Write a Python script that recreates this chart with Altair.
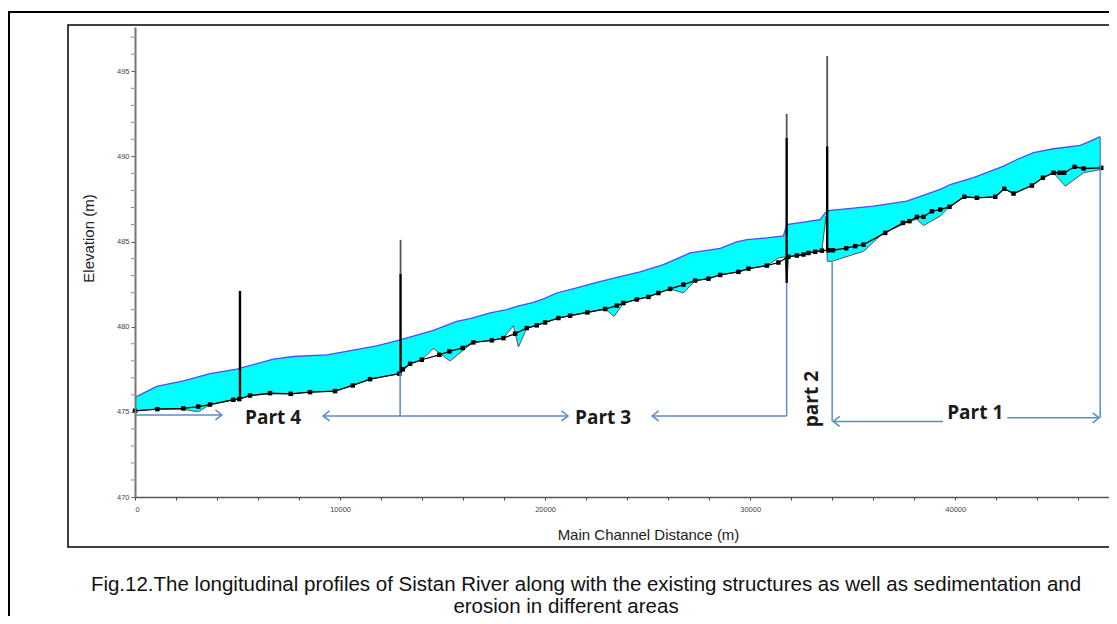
import altair as alt
import pandas as pd

# ---------------- data ----------------
# water surface profile (m, m)
ws_x = [0, 1060, 2360, 3660, 4960, 6750, 7720, 9350, 9840, 11790, 12930, 14550, 15690, 16340,
        17320, 18130, 18620, 19430, 19920, 20570, 21540, 22520, 23660, 24630, 25770, 27070,
        28540, 29350, 29840, 30810, 31620, 31790, 33410, 33660, 33820, 36010, 37640, 39270,
        39760, 40890, 42360, 43010, 43820, 44800, 46100, 46590, 47070]
ws_y = [475.85, 476.49, 476.82, 477.24, 477.51, 478.10, 478.25, 478.35, 478.45, 478.88, 479.22,
        479.78, 480.31, 480.47, 480.81, 481.00, 481.19, 481.43, 481.63, 481.98, 482.28, 482.61,
        482.94, 483.22, 483.65, 484.33, 484.60, 484.98, 485.12, 485.22, 485.33, 486.00, 486.29,
        486.68, 486.82, 487.08, 487.37, 488.06, 488.35, 488.75, 489.43, 489.82, 490.22, 490.45,
        490.65, 490.90, 491.16]

# channel bed with markers
bed_x = [0, 1088, 2356, 3088, 3659, 4795, 5088, 5610, 6585, 7595, 8537, 9756, 10620, 11463,
         12893, 13059, 13415, 13985, 14844, 15332, 15985, 16502, 17400, 17966, 18537, 19107,
         19595, 20000, 20649, 21220, 22063, 22927, 23498, 23820, 24473, 25039, 25527, 26098,
         26746, 27317, 27966, 28537, 29429, 29917, 30815, 31380, 31868, 32278, 32600, 32844,
         33171, 33498, 33820, 34034, 34683, 35122, 35527, 36585, 37449, 37771, 38132, 38454,
         38863, 39268, 39722, 40439, 41059, 41951, 42390, 42844, 43741, 44278, 44795, 45088,
         45317, 45820, 46259, 47122]
bed_y = [475.06, 475.16, 475.20, 475.31, 475.43, 475.71, 475.75, 475.96, 476.10, 476.06, 476.16,
         476.22, 476.55, 476.92, 477.24, 477.50, 477.82, 478.06, 478.35, 478.55, 478.75, 479.08,
         479.20, 479.33, 479.59, 479.92, 480.08, 480.25, 480.51, 480.65, 480.84, 481.04, 481.24,
         481.39, 481.60, 481.75, 481.98, 482.22, 482.47, 482.71, 482.82, 483.04, 483.22, 483.41,
         483.59, 483.77, 484.11, 484.18, 484.24, 484.33, 484.40, 484.47, 484.49, 484.49, 484.61,
         484.73, 484.82, 485.51, 486.10, 486.20, 486.45, 486.45, 486.78, 486.88, 487.04, 487.63,
         487.57, 487.63, 488.10, 487.82, 488.29, 488.75, 489.04, 489.04, 489.04, 489.39, 489.29,
         489.33]

# original ground line (lower limit of the cyan fill)
ini_x = [0, 1088, 2356, 3088, 3659, 4795, 5088, 5610, 6585, 7595, 8537, 9756, 10620, 11463,
         12893, 13059, 13415, 13985, 14551, 15366, 15985, 16502, 17400, 17966, 18454, 18698,
         19107, 19595, 20000, 20649, 21220, 22063, 22927, 23366, 23820, 24473, 25039, 25527,
         26098, 26746, 27317, 27966, 28537, 29429, 29917, 30815, 31380, 31700, 31790, 31870,
         32278, 32600, 32844, 33171, 33498, 33700, 33760, 33980, 35530, 36490, 37449, 37771,
         38132, 38454, 39268, 39722, 40439, 41059, 41951, 42390, 42844, 43741, 44278, 44795,
         45366, 46259, 47122]
ini_y = [475.06, 475.16, 475.15, 475.00, 475.43, 475.71, 475.75, 475.96, 476.05, 476.06, 476.16,
         476.22, 476.55, 476.92, 477.24, 477.40, 477.82, 478.06, 478.72, 477.98, 478.60, 479.08,
         479.20, 479.33, 480.06, 478.81, 479.92, 480.08, 480.25, 480.51, 480.65, 480.84, 481.04,
         480.60, 481.39, 481.60, 481.75, 481.98, 482.22, 481.98, 482.71, 482.82, 483.04, 483.22,
         483.41, 483.59, 484.04, 484.10, 482.57, 484.11, 484.18, 484.24, 484.33, 484.40, 484.47,
         486.50, 483.84, 483.84, 484.43, 485.50, 486.00, 486.20, 486.30, 485.94, 486.49, 487.04,
         487.63, 487.57, 487.63, 488.10, 487.82, 488.29, 488.75, 489.04, 488.25, 489.04, 489.24]

# structures: position, bottom, top of dark part, top of light part
st_x = [5120, 12950, 31780, 33756]
st_bottom = [475.75, 477.30, 482.57, 484.49]
st_mid = [482.10, 483.10, 491.10, 490.60]
st_top = [482.10, 485.10, 492.50, 495.90]

# annotation segments (part limits)
an_x1 = [0, 9170, 12930, 25220, 34050, 42540, 12930, 31780, 34000, 47070]
an_x2 = [4240, 12930, 21120, 31780, 39410, 47020, 12930, 31780, 34000, 47070]
an_y1 = [474.82, 474.76, 474.76, 474.76, 474.44, 474.65, 474.76, 474.76, 474.44, 474.65]
an_y2 = [474.82, 474.76, 474.76, 474.76, 474.44, 474.65, 477.30, 482.57, 483.84, 491.16]

# arrow heads
ah_x = [4240, 9170, 21120, 25220, 34050, 47020]
ah_y = [474.82, 474.76, 474.76, 474.76, 474.44, 474.65]
ah_dir = ["right", "left", "right", "left", "left", "right"]

# part labels
pl_text = ["Part 4", "Part 3", "Part 1"]
pl_x = [6732, 22830, 40976]
pl_y = [474.62, 474.62, 474.92]
p2_text = ["part 2"]
p2_x = [33000]
p2_y = [475.75]

caption1 = "Fig.12.The longitudinal profiles of Sistan River along with the existing structures as well as sedimentation and"
caption2 = "erosion in  different areas"

x_ticks = [0, 2000, 4000, 6000, 8000, 10000, 12000, 14000, 16000, 18000, 20000, 22000, 24000,
           26000, 28000, 30000, 32000, 34000, 36000, 38000, 40000, 42000, 44000, 46000]
y_major = [470, 475, 480, 485, 490, 495]
y_minor = [471, 472, 473, 474, 476, 477, 478, 479, 481, 482, 483, 484, 486, 487, 488, 489,
           491, 492, 493, 494, 496, 497]

# ---------------- chart ----------------
ws = pd.DataFrame({"x": ws_x, "y": ws_y})
bed = pd.DataFrame({"x": bed_x, "y": bed_y})
ini = pd.DataFrame({"x": ini_x, "y": ini_y})
st = pd.DataFrame({"x": st_x, "b": st_bottom, "m": st_mid, "t": st_top})
an = pd.DataFrame({"x1": an_x1, "x2": an_x2, "y1": an_y1, "y2": an_y2})
ah = pd.DataFrame({"x": ah_x, "y": ah_y, "d": ah_dir})
pl = pd.DataFrame({"x": pl_x, "y": pl_y, "t": pl_text})
p2 = pd.DataFrame({"x": p2_x, "y": p2_y, "t": p2_text})
ymin = pd.DataFrame({"y": y_minor})

xs = alt.Scale(domain=[0, 47500], nice=False, zero=False)
ys = alt.Scale(domain=[470, 497.6], nice=False, zero=False)

x_axis = alt.Axis(
    values=x_ticks, format="d", title="Main Channel Distance (m)",
    labelExpr="datum.value % 10000 === 0 ? datum.label : ''", labelOverlap=False,
    tickSize=3, tickColor="#444", domainColor="#555", domainWidth=1.5,
    labelFontSize=7.5, labelColor="#444", labelFont="Liberation Sans", labelPadding=5,
    titleFont="Liberation Sans", titleFontSize=15, titleFontWeight="normal", titleColor="#222",
    titleX=513, titleY=30, grid=False, zindex=1,
)
y_axis = alt.Axis(
    values=y_major, format="d", title="Elevation (m)", labelOverlap=False,
    tickSize=4, tickColor="#555", domainColor="#777", domainWidth=2,
    labelFontSize=7.5, labelColor="#444", labelFont="Liberation Sans", labelPadding=2,
    titleFont="Liberation Sans", titleFontSize=15, titleFontWeight="normal", titleColor="#222",
    titleX=-47, titleY=211, titleAngle=270, titleAlign="center", titleBaseline="middle",
    grid=False, zindex=1,
)

X = alt.X("x:Q", scale=xs, axis=x_axis)
Y = alt.Y("y:Q", scale=ys, axis=y_axis)

cyan = alt.Chart(ws).mark_area(color="#00ffff", opacity=1).encode(x=X, y=Y, y2=alt.datum(470))
white = alt.Chart(ini).mark_area(color="#ffffff", opacity=1).encode(
    x=alt.X("x:Q", scale=xs), y=alt.Y("y:Q", scale=ys), y2=alt.datum(470))
ini_line = alt.Chart(ini).mark_line(color="#555555", strokeWidth=1).encode(
    x=alt.X("x:Q", scale=xs), y=alt.Y("y:Q", scale=ys))
ws_line = alt.Chart(ws).mark_line(color="#4b4bff", strokeWidth=1.3).encode(
    x=alt.X("x:Q", scale=xs), y=alt.Y("y:Q", scale=ys))
bed_line = alt.Chart(bed).mark_line(color="#000000", strokeWidth=1.3).encode(
    x=alt.X("x:Q", scale=xs), y=alt.Y("y:Q", scale=ys))
bed_pts = alt.Chart(bed).mark_square(color="#000000", size=20, opacity=1).encode(
    x=alt.X("x:Q", scale=xs), y=alt.Y("y:Q", scale=ys))

minor_ticks = alt.Chart(ymin).mark_tick(orient="horizontal", size=3, thickness=1, color="#555").encode(
    x=alt.value(-2.5), y=alt.Y("y:Q", scale=ys))

st_low = alt.Chart(st).mark_rule(color="#000000", strokeWidth=2.4).encode(
    x=alt.X("x:Q", scale=xs), y=alt.Y("b:Q", scale=ys), y2="m:Q")
st_up = alt.Chart(st).mark_rule(color="#555555", strokeWidth=1.8).encode(
    x=alt.X("x:Q", scale=xs), y=alt.Y("m:Q", scale=ys), y2="t:Q")

blue = "#5b8bd0"
ann = alt.Chart(an).mark_rule(color=blue, strokeWidth=1.5).encode(
    x=alt.X("x1:Q", scale=xs), x2="x2:Q", y=alt.Y("y1:Q", scale=ys), y2="y2:Q")
heads_r = alt.Chart(ah).transform_filter("datum.d === 'right'").mark_point(
    shape="M -1.3 -1 L 0 0 L -1.3 1", size=100, filled=False, color=blue, strokeWidth=1.5, opacity=1
).encode(x=alt.X("x:Q", scale=xs), y=alt.Y("y:Q", scale=ys))
heads_l = alt.Chart(ah).transform_filter("datum.d === 'left'").mark_point(
    shape="M 1.3 -1 L 0 0 L 1.3 1", size=100, filled=False, color=blue, strokeWidth=1.5, opacity=1
).encode(x=alt.X("x:Q", scale=xs), y=alt.Y("y:Q", scale=ys))

labels = alt.Chart(pl).mark_text(font="Open Sans", fontSize=19, fontWeight="bold", color="#1a1a1a",
                                 align="center", baseline="middle").encode(
    x=alt.X("x:Q", scale=xs), y=alt.Y("y:Q", scale=ys), text="t:N")
label2 = alt.Chart(p2).mark_text(font="Open Sans", fontSize=19, fontWeight="bold", color="#1a1a1a",
                                 align="center", baseline="middle", angle=270).encode(
    x=alt.X("x:Q", scale=xs), y=alt.Y("y:Q", scale=ys), text="t:N")

one = alt.Data(values=[{}])
outer = alt.Chart(one).mark_rect(fill="transparent", stroke="#000000", strokeWidth=2).encode(
    x=alt.value(-126), x2=alt.value(1000), y=alt.value(-15), y2=alt.value(640))
inner = alt.Chart(one).mark_rect(fill="transparent", stroke="#000000", strokeWidth=1.5).encode(
    x=alt.value(-67), x2=alt.value(1000), y=alt.value(-2), y2=alt.value(520))
cap1 = alt.Chart(one).mark_text(font="Liberation Sans", fontSize=20.5, color="#111111",
                                align="center", baseline="middle").encode(
    x=alt.value(451), y=alt.value(558), text=alt.value(caption1))
cap2 = alt.Chart(one).mark_text(font="Liberation Sans", fontSize=20.5, color="#111111",
                                align="center", baseline="middle").encode(
    x=alt.value(431), y=alt.value(580), text=alt.value(caption2))

chart = alt.layer(
    cyan, white, ini_line, ws_line, bed_line, bed_pts, minor_ticks, st_low, st_up,
    ann, heads_r, heads_l, labels, label2, outer, inner, cap1, cap2
).properties(
    width=974, height=470,
    autosize=alt.AutoSizeParams(type="none"),
    padding={"left": 127, "top": 19, "right": 0, "bottom": 119},
    background="#ffffff",
).configure_view(stroke="transparent")

chart.save("out.html", embed_options={"renderer": "svg", "actions": False})
